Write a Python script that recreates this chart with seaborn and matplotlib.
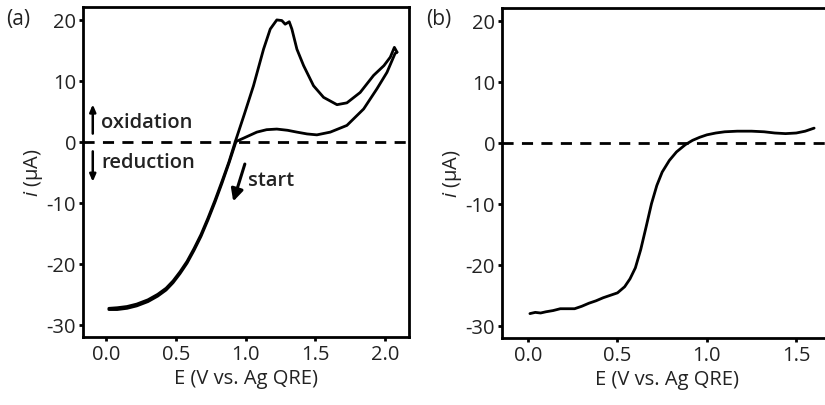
import matplotlib
matplotlib.use("Agg")
import matplotlib.pyplot as plt
import seaborn as sns
import pandas as pd

# ---- data ----
# Panel (a): cyclic voltammogram, three scan segments
e_down = [0.93, 0.88, 0.83, 0.78, 0.73, 0.68, 0.63, 0.58, 0.53, 0.48, 0.43, 0.37,
          0.30, 0.22, 0.15, 0.08, 0.02]
i_down = [0.0, -3.5, -6.8, -9.9, -12.8, -15.5, -17.8, -19.9, -21.6, -23.1, -24.3, -25.3,
          -26.2, -26.9, -27.3, -27.5, -27.5]
e_fwd = [0.02, 0.08, 0.15, 0.22, 0.30, 0.37, 0.43, 0.48, 0.53, 0.58, 0.63, 0.68,
         0.73, 0.78, 0.83, 0.88, 0.925, 0.99, 1.056, 1.128, 1.176, 1.223, 1.259, 1.283,
         1.312, 1.331, 1.367, 1.415, 1.486, 1.558, 1.654, 1.725, 1.82, 1.916, 1.99,
         2.036, 2.065, 2.084]
i_fwd = [-27.3, -27.2, -27.0, -26.6, -25.9, -25.0, -24.0, -22.8, -21.3, -19.6, -17.5, -15.2,
         -12.5, -9.6, -6.5, -3.3, 0.0, 4.5, 9.2, 15.2, 18.5, 20.0, 19.9, 19.3,
         19.7, 18.5, 15.2, 12.5, 9.2, 7.3, 6.1, 6.4, 8.1, 10.9, 12.5,
         13.9, 15.5, 14.7]
e_rev = [2.084, 2.07, 2.012, 1.94, 1.845, 1.725, 1.606, 1.51, 1.44, 1.367, 1.30, 1.223,
         1.15, 1.08, 0.984, 0.925]
i_rev = [14.7, 14.5, 11.4, 8.7, 5.4, 2.7, 1.6, 1.15, 1.3, 1.6, 1.9, 2.1,
         2.0, 1.6, 0.6, 0.0]

# Panel (b): linear sweep
e_b = [0.01, 0.04, 0.07, 0.10, 0.14, 0.18, 0.22, 0.26, 0.30, 0.34, 0.38, 0.42,
       0.46, 0.50, 0.54, 0.57, 0.60, 0.63, 0.66, 0.69, 0.72, 0.75, 0.79, 0.83,
       0.88, 0.92, 0.96, 1.00, 1.05, 1.10, 1.17, 1.25, 1.32, 1.38, 1.44, 1.50,
       1.55, 1.60]
i_b = [-28.0, -27.8, -27.9, -27.7, -27.5, -27.2, -27.2, -27.2, -26.8, -26.3, -25.9, -25.4,
       -25.0, -24.6, -23.6, -22.3, -20.5, -17.5, -13.8, -10.0, -7.0, -4.8, -2.9, -1.5,
       -0.3, 0.4, 0.9, 1.3, 1.6, 1.8, 1.9, 1.9, 1.8, 1.6, 1.5, 1.6,
       1.9, 2.4]

x_ticks_a = [0.0, 0.5, 1.0, 1.5, 2.0]
x_ticks_b = [0.0, 0.5, 1.0, 1.5]
y_ticks = [-30, -20, -10, 0, 10, 20]
x_label = "E (V vs. Ag QRE)"
y_label = r"$\it{i}$ ($\mathregular{\mu}$A)"

sns.set_theme(style="white")
plt.rcParams['font.family'] = ['Open Sans', 'DejaVu Sans']
plt.rcParams['mathtext.fontset'] = 'custom'
plt.rcParams['mathtext.rm'] = 'Open Sans'
plt.rcParams['mathtext.it'] = 'Open Sans:italic'

FS = 14.5
txt = '#222222'
fig = plt.figure(figsize=(8.25, 4.06), dpi=100)
ax1 = fig.add_axes([0.1006, 0.1675, 0.3952, 0.8125])
ax2 = fig.add_axes([0.6085, 0.1650, 0.4000, 0.8130])

seg_a = pd.concat([
    pd.DataFrame({"E": e_down, "i": i_down, "seg": "down"}),
    pd.DataFrame({"E": e_fwd, "i": i_fwd, "seg": "fwd"}),
    pd.DataFrame({"E": e_rev, "i": i_rev, "seg": "rev"}),
])
for name, g in seg_a.groupby("seg", sort=False):
    sns.lineplot(data=g, x="E", y="i", ax=ax1, sort=False, color='black',
                 lw=2.0, estimator=None)
df_b = pd.DataFrame({"E": e_b, "i": i_b})
sns.lineplot(data=df_b, x="E", y="i", ax=ax2, sort=False, color='black',
             lw=2.0, estimator=None)

for ax, xt, xl in [(ax1, x_ticks_a, (-0.165, 2.17)), (ax2, x_ticks_b, (-0.146, 1.70))]:
    ax.axhline(0, color='black', lw=2.0, ls=(0, (4, 3)), zorder=1)
    ax.set_xlim(*xl)
    ax.set_ylim(-32, 22.1)
    ax.set_xticks(xt)
    ax.set_xticklabels([f"{v:.1f}" for v in xt])
    ax.set_yticks(y_ticks)
    ax.set_yticklabels([str(v) for v in y_ticks])
    ax.set_xlabel(x_label, fontsize=FS, color=txt, labelpad=3)
    ax.set_ylabel(y_label, fontsize=FS, color=txt, labelpad=1)
    for s in ax.spines.values():
        s.set_linewidth(2.0)
        s.set_color('black')
    ax.tick_params(axis='both', direction='out', length=3, width=2, color='black',
                   labelsize=FS, labelcolor=txt, pad=2)
    ax.tick_params(axis='both', which='both', bottom=True, left=True)
    if ax.get_legend():
        ax.get_legend().remove()

ax2.spines['right'].set_visible(False)

# panel letters
fig.text(0.008, 0.952, "(a)", fontsize=15, color=txt, va='center', ha='left')
fig.text(0.516, 0.952, "(b)", fontsize=15, color=txt, va='center', ha='left')

# annotations in panel (a)
ax1.annotate("", xy=(-0.095, 6.6), xytext=(-0.095, 0.9),
             arrowprops=dict(arrowstyle='-|>,head_length=0.35,head_width=0.15',
                             color='black', lw=1.8))
ax1.annotate("", xy=(-0.095, -7.0), xytext=(-0.095, -1.1),
             arrowprops=dict(arrowstyle='-|>,head_length=0.35,head_width=0.15',
                             color='black', lw=1.8))
ax1.text(-0.035, 3.2, "oxidation", fontsize=FS, color=txt, va='center', ha='left',
         fontweight='semibold')
ax1.text(-0.035, -3.3, "reduction", fontsize=FS, color=txt, va='center', ha='left',
         fontweight='semibold')
ax1.annotate("", xy=(0.905, -10.2), xytext=(1.0, -3.2),
             arrowprops=dict(arrowstyle='-|>,head_length=0.6,head_width=0.3',
                             color='black', lw=2.2))
ax1.text(1.02, -6.2, "start", fontsize=FS, color=txt, va='center', ha='left',
         fontweight='semibold')

fig.savefig("out.png", dpi=100)
